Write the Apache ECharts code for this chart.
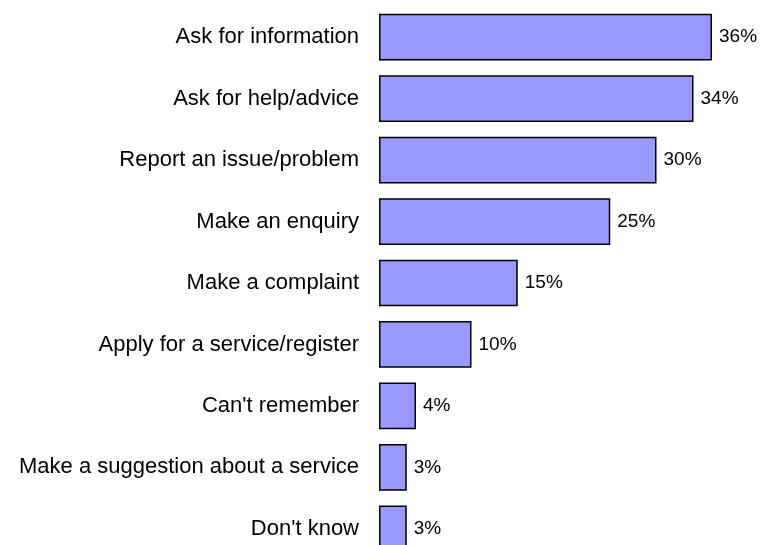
<!DOCTYPE html>
<html>
<head>
<meta charset="utf-8">
<title>Reasons for contact</title>
<script src="https://cdn.jsdelivr.net/npm/echarts@6/dist/echarts.min.js"></script>
<style>
  html, body { margin: 0; padding: 0; background: #fff; }
  #chart { width: 760px; height: 545px; }
</style>
</head>
<body>
<div id="chart"></div>
<script>
// Reasons for getting in touch, share of respondents (%)
const categories = [
  'Ask for information',
  'Ask for help/advice',
  'Report an issue/problem',
  'Make an enquiry',
  'Make a complaint',
  'Apply for a service/register',
  "Can't remember",
  'Make a suggestion about a service',
  "Don't know"
];
const shares = [36, 34, 30, 25, 15, 10, 4, 3, 3];

const chart = echarts.init(document.getElementById('chart'), null, { renderer: 'canvas' });

chart.setOption({
  animation: false,
  backgroundColor: '#ffffff',
  textStyle: { fontFamily: '"Liberation Sans", Arial, sans-serif' },
  grid: {
    left: 379, top: 6.5, width: 370, height: 553,
    containLabel: false,
    outerBoundsMode: 'none'
  },
  xAxis: {
    type: 'value',
    min: 0,
    max: 40,
    show: false
  },
  yAxis: {
    type: 'category',
    data: categories,
    inverse: true,
    axisLine: { show: false },
    axisTick: { show: false },
    splitLine: { show: false },
    axisLabel: {
      margin: 20,
      fontSize: 22,
      color: '#000',
      fontFamily: '"Liberation Sans", Arial, sans-serif'
    }
  },
  series: [{
    type: 'bar',
    data: shares,
    barCategoryGap: '24%',
    itemStyle: {
      color: '#9999ff',
      borderColor: '#000',
      borderWidth: 1.5
    },
    label: {
      show: true,
      position: 'right',
      distance: 7,
      fontSize: 19,
      color: '#000',
      fontFamily: '"Liberation Sans", Arial, sans-serif',
      formatter: '{c}%'
    }
  }]
});
</script>
</body>
</html>
